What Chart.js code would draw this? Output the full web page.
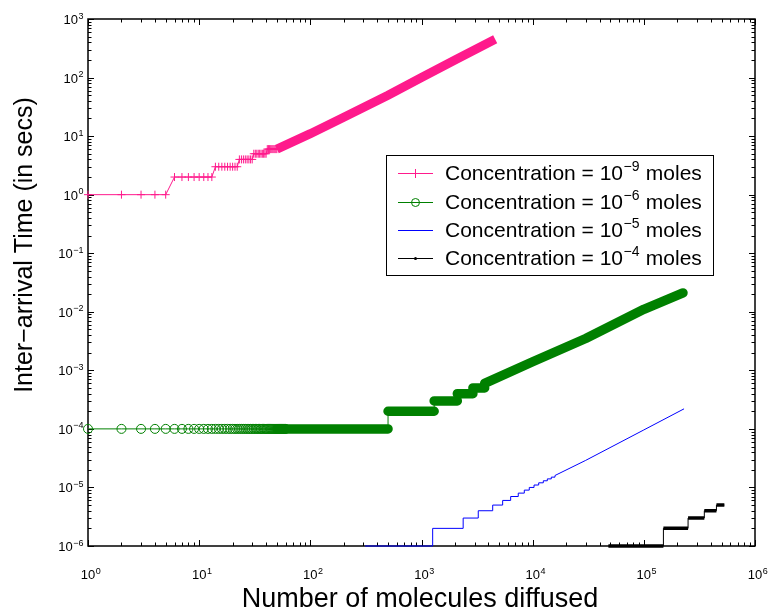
<!DOCTYPE html>
<html>
<head>
<meta charset="utf-8">
<script src="https://cdn.jsdelivr.net/npm/chart.js@4.4.1/dist/chart.umd.min.js"></script>
<style>
  html, body { margin: 0; padding: 0; background: #ffffff; }
  #wrap { width: 769px; height: 614px; }
</style>
</head>
<body>
<div id="wrap"><canvas id="arrivalChart" width="769" height="614"></canvas></div>
<script>
// axis decades (log-log)
const xDecades = [0, 1, 2, 3, 4, 5, 6];
const yDecades = [-6, -5, -4, -3, -2, -1, 0, 1, 2, 3];

const seriesNames = ["Concentration = 10", "Concentration = 10", "Concentration = 10", "Concentration = 10"];
const seriesExps = ["\u22129", "\u22126", "\u22125", "\u22124"];
const seriesColors = ["#ff1a8c", "#008000", "#0000ff", "#000000"];

// 10^-9 moles: runs of equal inter-arrival time [first n, last n, secs]
const pinkRuns = [[1, 5, 1], [6, 13, 2], [14, 22, 3], [23, 30, 4], [31, 40, 5], [41, 50, 6]];
const pinkBandN = [50, 100, 200, 500, 1000, 2000, 4600];
const pinkBandT = [6, 11, 21, 50, 100, 200, 450];

// 10^-6 moles
const greenRuns = [[1, 60, 1e-4]];
const greenLevelN = [50, 500, 1300, 2100, 2900, 3700];
const greenLevelT = [1e-4, 2e-4, 3e-4, 4e-4, 5e-4];
const greenTailN = [3700, 1e4, 3e4, 1e5, 2.25e5];
const greenTailT = [6e-4, 1.4e-3, 3.5e-3, 1.1e-2, 2.1e-2];

// 10^-5 moles: n where each new level starts
const blueStepN = [310, 1260, 2370, 3240, 4370, 5370, 6340, 7420, 8410, 9320, 10290, 11330, 12470, 13550, 14710, 15880];
const blueStepT = [1e-6, 2e-6, 3e-6, 4e-6, 5e-6, 6e-6, 7e-6, 8e-6, 9e-6, 1e-5, 1.1e-5, 1.2e-5, 1.3e-5, 1.4e-5, 1.5e-5, 1.6e-5];
const blueTailN = [15880, 3e4, 1e5, 2.3e5];
const blueTailT = [1.6e-5, 2.9e-5, 9.6e-5, 2.2e-4];

// 10^-4 moles
const blackStepN = [48000, 150000, 250000, 350000, 450000, 530000];
const blackStepT = [1e-6, 2e-6, 3e-6, 4e-6, 5e-6, 5e-6];

const FONT = '"Liberation Sans", Arial, Helvetica, sans-serif';

function runsToPoints(runs) {
  const pts = [];
  runs.forEach(([from, to, t]) => {
    for (let n = from; n <= to; n++) pts.push({ x: n, y: t });
  });
  return pts;
}

function zipPoints(xs, ys) {
  return xs.map((x, i) => ({ x: x, y: ys[i] }));
}

// horizontal bars between consecutive level starts, split by gaps
function levelBars(ns, ts) {
  const pts = [];
  ts.forEach((t, i) => {
    pts.push({ x: ns[i], y: t }, { x: ns[i + 1], y: t }, { x: ns[i + 1], y: null });
  });
  return pts;
}

const thin = { borderWidth: 1, pointRadius: 0, fill: false, tension: 0, clip: false };

const datasets = [
  // pink
  Object.assign({}, thin, {
    data: runsToPoints(pinkRuns), borderColor: seriesColors[0],
    pointStyle: 'cross', pointRadius: 4, pointBorderWidth: 1, pointBorderColor: seriesColors[0]
  }),
  Object.assign({}, thin, {
    data: zipPoints(pinkBandN, pinkBandT), borderColor: seriesColors[0], borderWidth: 9,
    borderCapStyle: 'butt'
  }),
  // green
  Object.assign({}, thin, {
    data: runsToPoints(greenRuns), borderColor: seriesColors[1],
    pointStyle: 'circle', pointRadius: 4.5, pointBorderWidth: 1,
    pointBorderColor: seriesColors[1], pointBackgroundColor: 'rgba(0,0,0,0)'
  }),
  Object.assign({}, thin, {
    data: zipPoints(greenLevelN, greenLevelT.concat([greenTailT[0]])),
    borderColor: seriesColors[1], stepped: 'before'
  }),
  Object.assign({}, thin, {
    data: levelBars(greenLevelN, greenLevelT), borderColor: seriesColors[1], borderWidth: 9.5,
    borderCapStyle: 'round', spanGaps: false
  }),
  Object.assign({}, thin, {
    data: zipPoints(greenTailN, greenTailT), borderColor: seriesColors[1], borderWidth: 9.5,
    borderCapStyle: 'round', borderJoinStyle: 'round'
  }),
  // blue
  Object.assign({}, thin, {
    data: zipPoints(blueStepN, blueStepT), borderColor: seriesColors[2], stepped: 'before'
  }),
  Object.assign({}, thin, {
    data: zipPoints(blueTailN, blueTailT), borderColor: seriesColors[2]
  }),
  // black
  Object.assign({}, thin, {
    data: zipPoints(blackStepN, blackStepT), borderColor: seriesColors[3], stepped: 'before'
  }),
  Object.assign({}, thin, {
    data: levelBars(blackStepN, blackStepT.slice(0, -1)), borderColor: seriesColors[3], borderWidth: 3.5,
    borderCapStyle: 'butt', spanGaps: false
  })
];

function supLabel(ctx, base, exp, x, y, align, baseSize, expSize) {
  ctx.font = baseSize + 'px ' + FONT;
  const wb = ctx.measureText(base).width;
  ctx.font = expSize + 'px ' + FONT;
  const we = ctx.measureText(exp).width;
  let left = x;
  if (align === 'right') left = x - wb - we;
  if (align === 'centerBase') left = x - wb / 2;
  ctx.textAlign = 'left';
  ctx.textBaseline = 'alphabetic';
  ctx.font = baseSize + 'px ' + FONT;
  ctx.fillText(base, left, y);
  ctx.font = expSize + 'px ' + FONT;
  ctx.fillText(exp, left + wb + 0.5, y - baseSize * 0.42);
  return wb + we;
}

const axesBox = {
  id: 'axesBox',
  beforeDatasetsDraw(chart) {
    const { ctx, chartArea: a, scales: { x, y } } = chart;
    ctx.save();
    ctx.strokeStyle = '#000';
    ctx.lineWidth = 1;
    ctx.beginPath();
    xDecades.forEach((d) => {
      for (let k = 1; k <= 9; k++) {
        const v = k * Math.pow(10, d);
        if (v > 1e6) break;
        const px = Math.round(x.getPixelForValue(v)) + 0.5;
        const len = k === 1 ? 6 : 3.5;
        ctx.moveTo(px, a.bottom); ctx.lineTo(px, a.bottom - len);
        ctx.moveTo(px, a.top); ctx.lineTo(px, a.top + len);
      }
    });
    yDecades.forEach((d) => {
      for (let k = 1; k <= 9; k++) {
        const v = k * Math.pow(10, d);
        if (v > 1e3) break;
        const py = Math.round(y.getPixelForValue(v)) + 0.5;
        const len = k === 1 ? 6 : 3.5;
        ctx.moveTo(a.left, py); ctx.lineTo(a.left + len, py);
        ctx.moveTo(a.right, py); ctx.lineTo(a.right - len, py);
      }
    });
    ctx.stroke();
    ctx.lineWidth = 1.5;
    ctx.strokeRect(a.left, a.top, a.right - a.left, a.bottom - a.top);
    ctx.restore();
  },
  afterDraw(chart) {
    const { ctx, chartArea: a, scales: { x, y } } = chart;
    ctx.save();
    ctx.fillStyle = '#000';
    // tick labels
    yDecades.forEach((d) => {
      const py = y.getPixelForValue(Math.pow(10, d));
      const e = d < 0 ? '\u2212' + (-d) : String(d);
      supLabel(ctx, '10', e, 83, py + 5, 'right', 13, 9);
    });
    xDecades.forEach((d) => {
      const px = x.getPixelForValue(Math.pow(10, d));
      supLabel(ctx, '10', String(d), px, a.bottom + 33, 'centerBase', 13, 9);
    });
    // axis titles
    ctx.font = '27px ' + FONT;
    ctx.textAlign = 'center';
    ctx.textBaseline = 'middle';
    ctx.fillText('Number of molecules diffused', 420, 600);
    ctx.save();
    ctx.translate(25, 245);
    ctx.rotate(-Math.PI / 2);
    ctx.font = '25px ' + FONT;
    ctx.fillText('Inter\u2212arrival Time (in secs)', 0, 0);
    ctx.restore();

    // legend
    const box = { left: 386, top: 155, right: 713, bottom: 275 };
    ctx.fillStyle = '#fff';
    ctx.fillRect(box.left, box.top, box.right - box.left, box.bottom - box.top);
    ctx.strokeStyle = '#000';
    ctx.lineWidth = 1;
    ctx.strokeRect(box.left + 0.5, box.top + 0.5, box.right - box.left, box.bottom - box.top);
    const rows = [173, 202, 230, 258];
    rows.forEach((ry, i) => {
      const c = seriesColors[i];
      ctx.strokeStyle = c;
      ctx.lineWidth = 1;
      ctx.beginPath();
      ctx.moveTo(398, ry + 0.5); ctx.lineTo(433, ry + 0.5);
      ctx.stroke();
      const cx = 415.5;
      if (i === 0) {
        ctx.beginPath();
        ctx.moveTo(cx, ry - 4); ctx.lineTo(cx, ry + 5);
        ctx.stroke();
      } else if (i === 1) {
        ctx.beginPath();
        ctx.arc(cx, ry + 0.5, 4, 0, Math.PI * 2);
        ctx.stroke();
      } else if (i === 3) {
        ctx.fillStyle = c;
        ctx.beginPath();
        ctx.arc(cx, ry + 0.5, 1.5, 0, Math.PI * 2);
        ctx.fill();
      }
      ctx.fillStyle = '#000';
      const w = supLabel(ctx, seriesNames[i], seriesExps[i], 445, ry + 7, 'left', 21, 14);
      ctx.font = '21px ' + FONT;
      ctx.fillText(' moles', 445 + w + 1, ry + 7);
    });
    ctx.restore();
  }
};

new Chart(document.getElementById('arrivalChart').getContext('2d'), {
  type: 'line',
  data: { datasets: datasets },
  options: {
    responsive: false,
    animation: false,
    events: [],
    layout: { padding: { left: 88, right: 14, top: 19, bottom: 68 } },
    scales: {
      x: { type: 'logarithmic', min: 1, max: 1e6, display: false },
      y: { type: 'logarithmic', min: 1e-6, max: 1e3, display: false }
    },
    plugins: { legend: { display: false }, tooltip: { enabled: false } }
  },
  plugins: [axesBox]
});
</script>
</body>
</html>
